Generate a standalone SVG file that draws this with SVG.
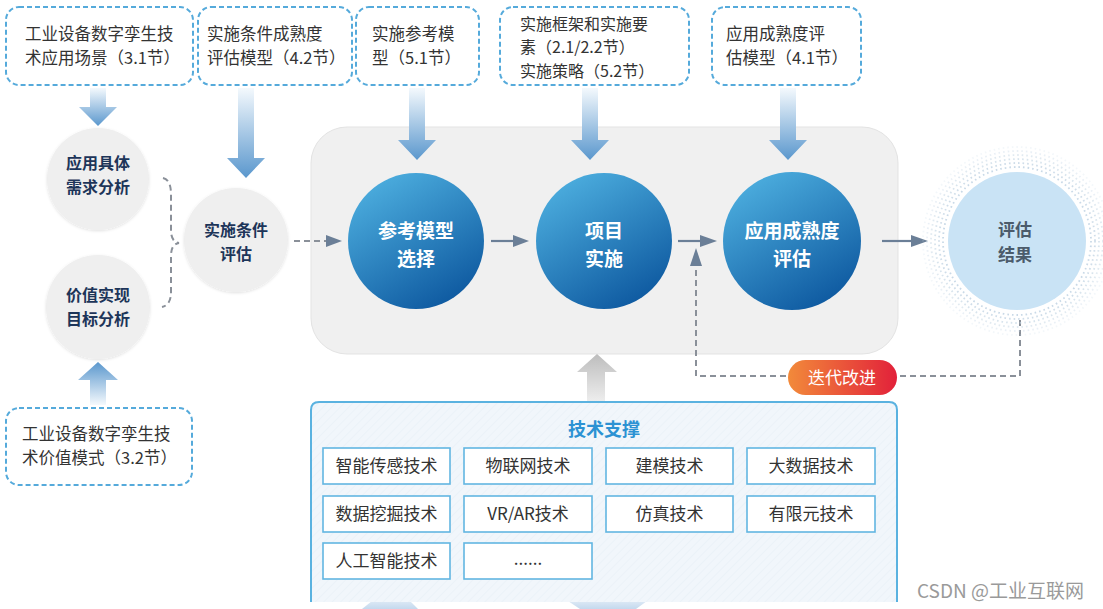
<svg xmlns="http://www.w3.org/2000/svg" width="1103" height="609" viewBox="0 0 1103 609">
<defs>
<style>
.src{fill:#fff;stroke:#55aadb;stroke-width:2;stroke-dasharray:5 3}
.st{font-family:"Noto Sans CJK SC","Noto Sans",sans-serif;font-size:16.5px;fill:#333}
.st3{font-family:"Noto Sans CJK SC","Noto Sans",sans-serif;font-size:16px;fill:#333}
.gc{fill:#efefef;filter:url(#sh)}
.gt{font-family:"Noto Sans CJK SC",sans-serif;font-size:16px;font-weight:700;fill:#1d3559;text-anchor:middle}
.bc{fill:url(#blueG)}
.bt{font-family:"Noto Sans CJK SC",sans-serif;font-size:19px;font-weight:700;fill:#fff;text-anchor:middle}
.cell{fill:#fff;stroke:#62b6e2;stroke-width:1.6}
.ct{font-family:"Noto Sans CJK SC","Noto Sans",sans-serif;font-size:17px;fill:#333;text-anchor:middle}
.dash{fill:none;stroke:#8a9099;stroke-width:2;stroke-dasharray:6 4}
.solid{fill:none;stroke:#6b7f97;stroke-width:2.2}
.ah{fill:#6b7f97}
.halo{fill:none;stroke:#c3d5e4;stroke-width:1.8;stroke-dasharray:1.6 3}
</style>
<linearGradient id="downG" x1="0" y1="0" x2="0" y2="1">
<stop offset="0" stop-color="#f4f9fd"/>
<stop offset="1" stop-color="#5a97cd"/>
</linearGradient>
<linearGradient id="upG" x1="0" y1="1" x2="0" y2="0">
<stop offset="0" stop-color="#f4f9fd"/>
<stop offset="1" stop-color="#5a97cd"/>
</linearGradient>
<linearGradient id="greyUp" x1="0" y1="1" x2="0" y2="0">
<stop offset="0" stop-color="#eeeeee"/>
<stop offset="1" stop-color="#bdbdbd"/>
</linearGradient>
<linearGradient id="blueG" x1="0.2" y1="0" x2="0.8" y2="1">
<stop offset="0" stop-color="#4eb0e0"/>
<stop offset="1" stop-color="#0b559d"/>
</linearGradient>
<linearGradient id="pillG" x1="0" y1="0" x2="1" y2="0">
<stop offset="0" stop-color="#f28a3a"/>
<stop offset="1" stop-color="#e2213a"/>
</linearGradient>
<linearGradient id="botG" x1="0" y1="0" x2="0" y2="1">
<stop offset="0" stop-color="#dde9f5"/>
<stop offset="1" stop-color="#c4d9ee"/>
</linearGradient>
<pattern id="hatch" width="6" height="6" patternUnits="userSpaceOnUse" patternTransform="rotate(45)">
<rect width="6" height="6" fill="#f1f6fb"/>
<line x1="0" y1="0" x2="0" y2="6" stroke="#e6eef6" stroke-width="1"/>
</pattern>
<filter id="sh" x="-20%" y="-20%" width="140%" height="140%">
<feDropShadow dx="0" dy="1" stdDeviation="1.5" flood-color="#000" flood-opacity="0.12"/>
</filter>
</defs>
<rect width="1103" height="609" fill="#fff"/>

<g id="process-area">
<rect x="311" y="127" width="587" height="227" rx="36" fill="#f0f0f0" stroke="#e3e3e3" stroke-width="1"/>
</g>

<g id="box-3-1">
<rect class="src" x="6" y="7" width="187" height="78" rx="13"/>
<text class="st"><tspan x="25" y="40">工业设备数字孪生技</tspan><tspan x="25" y="64">术应用场景（3.1节）</tspan></text>
</g>
<g id="box-4-2">
<rect class="src" x="198" y="7" width="154" height="78" rx="13"/>
<text class="st"><tspan x="207" y="40">实施条件成熟度</tspan><tspan x="207" y="64">评估模型（4.2节）</tspan></text>
</g>
<g id="box-5-1">
<rect class="src" x="356" y="7" width="123" height="78" rx="13"/>
<text class="st"><tspan x="372" y="40">实施参考模</tspan><tspan x="372" y="64">型（5.1节）</tspan></text>
</g>
<g id="box-2-1">
<rect class="src" x="500" y="7" width="189" height="78" rx="13"/>
<text class="st3"><tspan x="520" y="30">实施框架和实施要</tspan><tspan x="520" y="53.3">素（2.1/2.2节）</tspan><tspan x="520" y="76.6">实施策略（5.2节）</tspan></text>
</g>
<g id="box-4-1">
<rect class="src" x="712" y="7" width="149" height="78" rx="13"/>
<text class="st"><tspan x="726" y="40">应用成熟度评</tspan><tspan x="726" y="64">估模型（4.1节）</tspan></text>
</g>
<g id="box-3-2">
<rect class="src" x="6" y="408" width="186" height="77" rx="13"/>
<text class="st"><tspan x="22" y="440">工业设备数字孪生技</tspan><tspan x="22" y="464">术价值模式（3.2节）</tspan></text>
</g>

<g id="connectors">
<polygon fill="url(#downG)" points="90,88 106,88 106,107 117,107 98,126 79,107 90,107"/>
<polygon fill="url(#downG)" points="238,88 254,88 254,158 265,158 246,178 227,158 238,158"/>
<polygon fill="url(#downG)" points="409,88 425,88 425,140 436,140 417,160 398,140 409,140"/>
<polygon fill="url(#downG)" points="582,88 598,88 598,140 609,140 590,160 571,140 582,140"/>
<polygon fill="url(#downG)" points="780,88 796,88 796,140 807,140 788,160 769,140 780,140"/>
<polygon fill="url(#upG)" points="90,405 106,405 106,380 118,380 98,362 78,380 90,380"/>
<polygon fill="url(#greyUp)" points="587,402 605,402 605,372 617,372 597,354 577,372 587,372"/>

<path class="dash" d="M163,178 Q171,180 171,194 L171,230 Q171,242 179,243 Q171,244 171,256 L171,292 Q171,305 162,307"/>
<line class="dash" x1="294" y1="241" x2="326" y2="241" stroke-dasharray="5 3"/>
<polygon class="ah" points="326,235 342,241 326,247"/>

<line class="solid" x1="491" y1="241" x2="514" y2="241"/>
<polygon class="ah" points="513,235 529,241 513,247"/>
<line class="solid" x1="678" y1="241" x2="701" y2="241"/>
<polygon class="ah" points="700,235 717,241 700,247"/>
<line class="solid" x1="882" y1="241" x2="912" y2="241"/>
<polygon class="ah" points="911,235 928,241 911,247"/>

<path class="dash" d="M1020,320 L1020,376 L696,376 L696,266"/>
<polygon class="ah" points="690,266 696,248 702,266"/>
</g>

<g id="demand-analysis">
<circle class="gc" cx="98" cy="179" r="51"/>
<text class="gt"><tspan x="98" y="169">应用具体</tspan><tspan x="98" y="193">需求分析</tspan></text>
</g>
<g id="value-analysis">
<circle class="gc" cx="98" cy="307" r="52"/>
<text class="gt"><tspan x="98" y="301">价值实现</tspan><tspan x="98" y="325">目标分析</tspan></text>
</g>
<g id="condition-eval">
<circle class="gc" cx="236" cy="240" r="52"/>
<text class="gt"><tspan x="236" y="236">实施条件</tspan><tspan x="236" y="260">评估</tspan></text>
</g>

<g id="ref-model">
<circle class="bc" cx="416" cy="241" r="68"/>
<text class="bt"><tspan x="416" y="238">参考模型</tspan><tspan x="416" y="266">选择</tspan></text>
</g>
<g id="project">
<circle class="bc" cx="604" cy="241" r="68"/>
<text class="bt"><tspan x="604" y="238">项目</tspan><tspan x="604" y="266">实施</tspan></text>
</g>
<g id="maturity-eval">
<circle class="bc" cx="792" cy="241" r="69"/>
<text class="bt"><tspan x="792" y="238">应用成熟度</tspan><tspan x="792" y="266">评估</tspan></text>
</g>

<g id="result">
<circle class="halo" cx="1017" cy="241" r="74" opacity="0.9"/>
<circle class="halo" cx="1017" cy="241" r="78" opacity="0.8"/>
<circle class="halo" cx="1017" cy="241" r="82" opacity="0.65"/>
<circle class="halo" cx="1017" cy="241" r="86" opacity="0.5"/>
<circle class="halo" cx="1017" cy="241" r="90" opacity="0.35"/>
<circle class="halo" cx="1017" cy="241" r="94" opacity="0.2"/>
<circle cx="1017" cy="241" r="69" fill="#c9e3f5"/>
<text font-family="Noto Sans CJK SC,sans-serif" font-size="17" font-weight="700" fill="#4b5b6b" text-anchor="middle"><tspan x="1015" y="236">评估</tspan><tspan x="1015" y="261">结果</tspan></text>
</g>

<g id="iterate">
<rect x="788" y="360" width="109" height="35" rx="17.5" fill="url(#pillG)"/>
<text x="842" y="384" font-family="Noto Sans CJK SC,sans-serif" font-size="17" fill="#fff" text-anchor="middle">迭代改进</text>
</g>

<g id="tech-support">
<polygon fill="url(#botG)" points="372,601 410,601 418,609 362,609"/>
<polygon fill="url(#botG)" points="568,601 647,601 636,609 580,609"/>
<path d="M311,602 L311,410 Q311,402 319,402 L889,402 Q897,402 897,410 L897,602" fill="url(#hatch)" stroke="#5ab2e0" stroke-width="2"/>
<text x="604" y="436" font-family="Noto Sans CJK SC,sans-serif" font-size="18" font-weight="700" fill="#2c92d3" text-anchor="middle">技术支撑</text>
<rect class="cell" x="323" y="448" width="127" height="36"/>
<text class="ct" x="386.5" y="472">智能传感技术</text>
<rect class="cell" x="464" y="448" width="128" height="36"/>
<text class="ct" x="528" y="472">物联网技术</text>
<rect class="cell" x="606" y="448" width="127" height="36"/>
<text class="ct" x="669.5" y="472">建模技术</text>
<rect class="cell" x="747" y="448" width="128" height="36"/>
<text class="ct" x="811" y="472">大数据技术</text>
<rect class="cell" x="323" y="496" width="127" height="36"/>
<text class="ct" x="386.5" y="520">数据挖掘技术</text>
<rect class="cell" x="464" y="496" width="128" height="36"/>
<text class="ct" x="528" y="520">VR/AR技术</text>
<rect class="cell" x="606" y="496" width="127" height="36"/>
<text class="ct" x="669.5" y="520">仿真技术</text>
<rect class="cell" x="747" y="496" width="128" height="36"/>
<text class="ct" x="811" y="520">有限元技术</text>
<rect class="cell" x="323" y="543" width="127" height="36"/>
<text class="ct" x="386.5" y="567">人工智能技术</text>
<rect class="cell" x="464" y="543" width="128" height="36"/>
<text class="ct" x="528" y="565" font-size="13">......</text>
</g>

<text x="917" y="598" font-family="Noto Sans CJK SC,sans-serif" font-size="19" fill="#9a9a9a">CSDN @工业互联网</text>
</svg>
